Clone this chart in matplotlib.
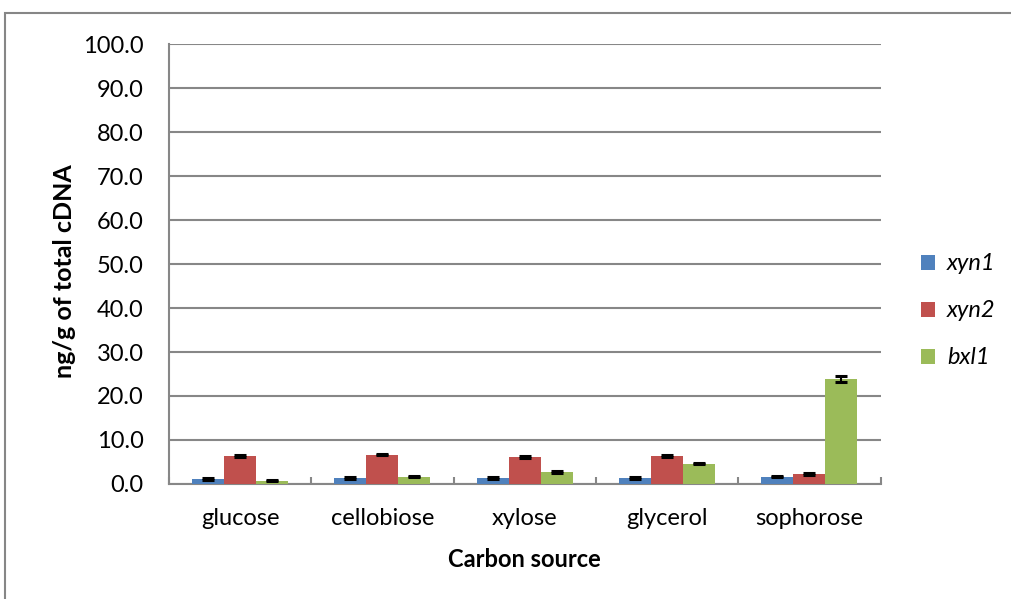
import numpy as np
import matplotlib
matplotlib.use("Agg")
import matplotlib.pyplot as plt
from matplotlib.patches import Patch, Rectangle

plt.rcParams['font.family'] = ['Lato', 'DejaVu Sans']

# data
categories = ['glucose', 'cellobiose', 'xylose', 'glycerol', 'sophorose']
series = ['xyn1', 'xyn2', 'bxl1']
xyn1 = [1.1, 1.35, 1.35, 1.35, 1.7]
xyn2 = [6.4, 6.7, 6.2, 6.4, 2.3]
bxl1 = [0.75, 1.7, 2.8, 4.6, 23.8]
xyn1_err = [0.2, 0.2, 0.2, 0.2, 0.15]
xyn2_err = [0.3, 0.2, 0.2, 0.25, 0.2]
bxl1_err = [0.1, 0.15, 0.2, 0.15, 0.7]
yticks = [0, 10, 20, 30, 40, 50, 60, 70, 80, 90, 100]

colors = ['#4F81BD', '#C0504D', '#9BBB59']
grid_col = '#878787'
fs = 17

fig = plt.figure(figsize=(10.11, 5.99), dpi=100)
ax = fig.add_axes([0.167, 0.192, 0.704, 0.7345])

x = np.arange(len(categories))
w = 0.225
vals = [xyn1, xyn2, bxl1]
errs = [xyn1_err, xyn2_err, bxl1_err]
for i, (v, e) in enumerate(zip(vals, errs)):
    ax.bar(x + (i - 1) * w, v, w, color=colors[i], zorder=3,
           yerr=e, error_kw=dict(ecolor='black', elinewidth=1.5, capsize=4.5, capthick=2.2, zorder=4))

ax.set_xlim(-0.5, len(categories) - 0.5)
ax.set_ylim(0, 100)
ax.set_yticks(yticks)
ax.set_yticklabels([f'{t:.1f}' for t in yticks], fontsize=fs)
ax.yaxis.grid(True, color=grid_col, linewidth=1.5, zorder=0)
ax.set_axisbelow(True)

ax.set_xticks(x)
ax.set_xticklabels(categories, fontsize=fs)
ax.set_xticks(np.arange(-0.5, len(categories)), minor=True)
ax.tick_params(axis='x', which='major', length=0, pad=17)
ax.tick_params(axis='x', which='minor', direction='in', length=5, width=1.5, color=grid_col)
ax.tick_params(axis='y', direction='in', length=0, pad=18)

for s in ['top', 'right']:
    ax.spines[s].set_visible(False)
for s in ['left', 'bottom']:
    ax.spines[s].set_color(grid_col)
    ax.spines[s].set_linewidth(1.5)

ax.set_ylabel('ng/g of total cDNA', fontsize=18, fontweight='bold', va='center')
ax.yaxis.set_label_coords(-0.146, 0.484)
ax.set_xlabel('Carbon source', fontsize=fs, fontweight='bold', va='center')
ax.xaxis.set_label_coords(0.5, -0.1727)

handles = [Patch(facecolor=c, edgecolor='none') for c in colors]
fig.legend(handles, series, loc='center left', bbox_to_anchor=(0.911, 0.481),
           frameon=False, prop=dict(size=fs, style='italic'),
           handlelength=0.6, handleheight=0.6, handletextpad=0.5,
           labelspacing=1.1, borderpad=0, borderaxespad=0)

# outer chart border (only left and top visible in the crop)
fig.patches.append(Rectangle((5 / 1011, -0.1), 1.2, (599 - 13) / 599 + 0.1,
                             transform=fig.transFigure, fill=False,
                             edgecolor='#868686', linewidth=1.5))

fig.savefig('out.png', dpi=100)
